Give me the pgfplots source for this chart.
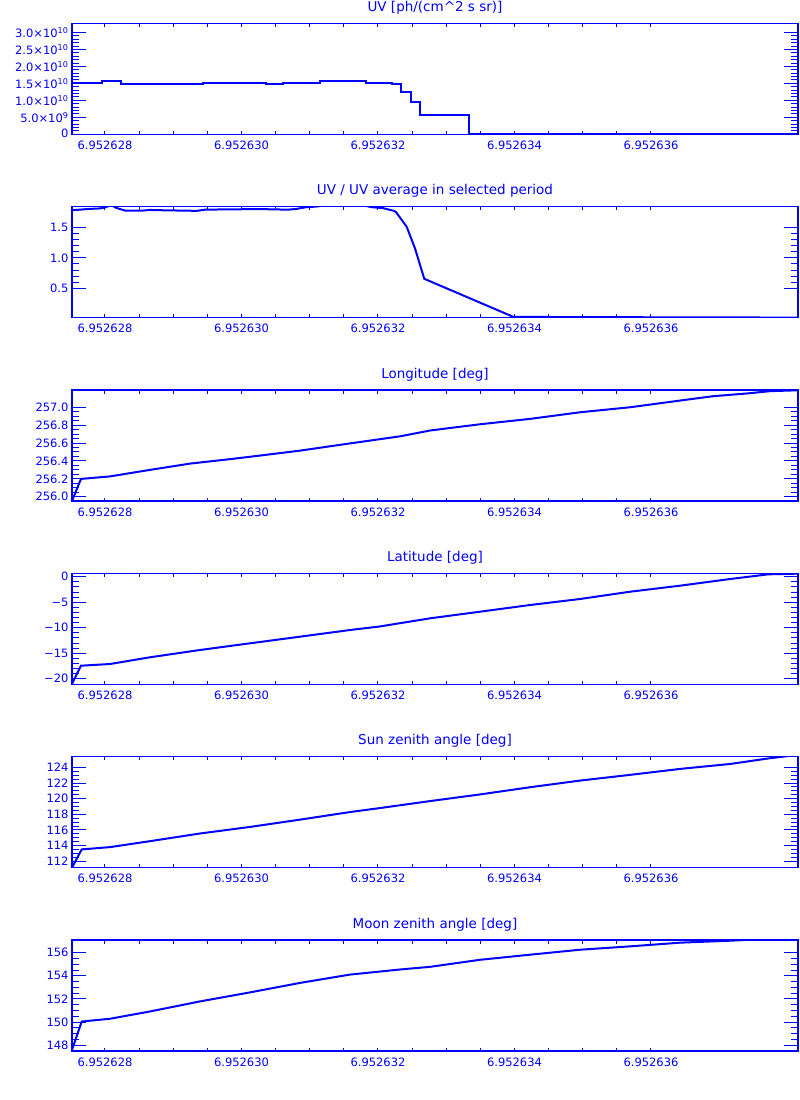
\documentclass[border=0pt]{standalone}
\usepackage{fontspec}
\setmainfont{DejaVu Sans}
\usepackage{pgfplots}
\pgfplotsset{compat=1.18}

\definecolor{idlblue}{RGB}{0,0,255}

% x is plotted as (time - 6.952628) * 1e6, labels typed back in
\pgfplotsset{
  idl/.style={
    scale only axis, width=726pt, height=111pt,
    xmin=-0.4835, xmax=10.154,
    xtick={0,2,4,6,8},
    xticklabels={6.952628,6.952630,6.952632,6.952634,6.952636},
    minor x tick num=3,
    axis line style={draw=idlblue, line width=1.2pt},
    tick style={draw=idlblue, line width=1pt},
    major tick length=14pt, minor tick length=7pt,
    xtick style={/pgfplots/major tick length=3.5pt,/pgfplots/minor tick length=3.5pt},
    tick align=inside,
    font=\fontsize{11.5}{13}\selectfont,
    ticklabel style={text=idlblue},
    xticklabel style={yshift=-3pt},
    title style={text=idlblue, font=\fontsize{13.5}{15}\selectfont,
      at={(0.5,1)}, anchor=base, yshift=6pt},
    anchor=south west,
  },
  idlline/.style={draw=idlblue, line width=2pt},
}

\begin{document}
\begin{tikzpicture}
\useasboundingbox (0,0) rectangle (800pt,-1100pt);

% UV
\begin{axis}[idl, at={(72pt,-134.3pt)},
    title={UV [ph/(cm\textasciicircum 2 s sr)]},
    ymin=0, ymax=3.27,
    ytick={0,0.5,1,1.5,2,2.5,3},
    yticklabels={\raisebox{3pt}{0},5.0×10\textsuperscript{9},1.0×10\textsuperscript{10},1.5×10\textsuperscript{10},2.0×10\textsuperscript{10},2.5×10\textsuperscript{10},3.0×10\textsuperscript{10}},
    minor y tick num=4]
  \addplot[idlline, const plot] coordinates {
    (-0.4835,1.51) (-0.044,1.56) (0.234,1.48) (1.436,1.52) (2.359,1.48)
    (2.608,1.52) (3.150,1.56) (3.824,1.52) (4.059,1.51) (4.205,1.47)
    (4.337,1.25) (4.479,0.96) (4.615,0.56) (5.333,0) (10.154,0)
  };
\end{axis}

% UV / average
\begin{axis}[idl, at={(72pt,-317.7pt)},
    title={UV / UV average in selected period},
    ymin=0.02, ymax=1.838,
    ytick={0.5,1,1.5}, yticklabels={0.5,1.0,1.5},
    minor y tick num=4]
  \addplot[idlline] coordinates {
    (-0.4835,1.78) (-0.366,1.79) (-0.249,1.80) (-0.073,1.81) (0.015,1.83)
    (0.088,1.87) (0.161,1.82) (0.293,1.775) (0.557,1.775) (0.659,1.785)
    (0.835,1.78) (1.348,1.77) (1.465,1.79) (2.315,1.80) (2.418,1.795)
    (2.681,1.79) (2.798,1.80) (2.945,1.83) (3.092,1.84) (3.297,1.87)
    (3.736,1.87) (3.912,1.83) (4.073,1.815) (4.234,1.77) (4.264,1.75)
    (4.420,1.51) (4.542,1.156) (4.678,0.657) (5.982,0.034) (6.813,0.03)
    (10.154,0.022)
  };
\end{axis}

% Longitude
\begin{axis}[idl, at={(72pt,-501pt)},
    title={Longitude [deg]},
    ymin=255.952, ymax=257.193,
    ytick={256.0,256.2,256.4,256.6,256.8,257.0},
    yticklabels={256.0,256.2,256.4,256.6,256.8,257.0},
    minor y tick num=3]
  \addplot[idlline] coordinates {
    (-0.4835,255.952) (-0.352,256.199) (0.073,256.227) (0.659,256.30)
    (1.245,256.37) (1.832,256.42) (2.271,256.46) (2.857,256.515)
    (3.443,256.58) (4.322,256.675) (4.762,256.74) (5.495,256.81)
    (6.227,256.87) (6.960,256.944) (7.692,257.0) (8.425,257.075)
    (8.913,257.124) (9.402,257.154) (9.744,257.18) (10.154,257.19)
  };
\end{axis}

% Latitude
\begin{axis}[idl, at={(72pt,-684.3pt)},
    title={Latitude [deg]},
    ymin=-21.1, ymax=0.67,
    ytick={-20,-15,-10,-5,0},
    yticklabels={−20,−15,−10,−5,0},
    minor y tick num=4]
  \addplot[idlline] coordinates {
    (-0.4835,-21.0) (-0.352,-17.45) (0.073,-17.12) (0.659,-15.8)
    (1.392,-14.37) (2.125,-13.06) (2.857,-11.76) (3.590,-10.45)
    (4.029,-9.75) (4.762,-8.16) (5.495,-6.86) (6.227,-5.55)
    (6.960,-4.37) (7.692,-2.94) (8.425,-1.76) (9.158,-0.45)
    (9.719,0.47) (10.154,0.6)
  };
\end{axis}

% Sun zenith angle
\begin{axis}[idl, at={(72pt,-867.7pt)},
    title={Sun zenith angle [deg]},
    ymin=111.18, ymax=125.36,
    ytick={112,114,116,118,120,122,124},
    yticklabels={112,114,116,118,120,122,124},
    minor y tick num=3]
  \addplot[idlline] coordinates {
    (-0.4835,111.2) (-0.341,113.52) (0.073,113.81) (0.659,114.57)
    (1.392,115.55) (2.125,116.39) (2.857,117.32) (3.590,118.29)
    (4.029,118.8) (4.762,119.69) (5.495,120.54) (6.227,121.46)
    (6.960,122.31) (7.692,123.04) (8.425,123.80) (9.158,124.43)
    (9.719,125.14) (10.154,125.6)
  };
\end{axis}

% Moon zenith angle
\begin{axis}[idl, at={(72pt,-1051pt)},
    title={Moon zenith angle [deg]},
    ymin=147.5, ymax=157.1,
    ytick={148,150,152,154,156},
    yticklabels={148,150,152,154,156},
    minor y tick num=3]
  \addplot[idlline] coordinates {
    (-0.4835,147.6) (-0.341,150.05) (0.073,150.29) (0.659,150.92)
    (1.392,151.79) (2.125,152.57) (2.857,153.39) (3.590,154.11)
    (4.322,154.55) (4.762,154.78) (5.495,155.39) (6.227,155.83)
    (6.960,156.26) (7.692,156.55) (8.425,156.87) (9.158,157.04)
    (9.451,157.12) (10.154,157.14)
  };
\end{axis}
\end{tikzpicture}
\end{document}
